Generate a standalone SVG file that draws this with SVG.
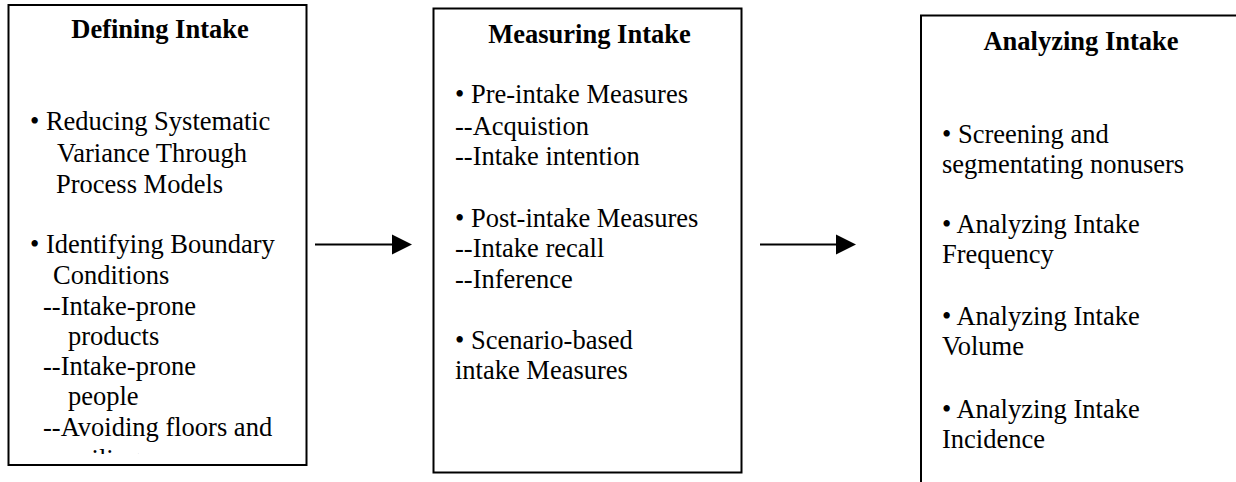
<svg xmlns="http://www.w3.org/2000/svg" width="1236" height="482" viewBox="0 0 1236 482">
<style>
.box{fill:#fff;stroke:#000;stroke-width:2}
.t{font-family:"Liberation Serif","Times New Roman",serif;font-size:26.5px;fill:#000}
.h{font-weight:bold;text-anchor:middle}
.conn line{stroke:#000;stroke-width:2}
.conn polygon{fill:#000}
</style>
<defs>
<clipPath id="clip1"><rect x="9" y="5" width="297" height="449"/></clipPath>
</defs>
<rect width="1236" height="482" fill="#fff"/>
<g id="defining">
<rect class="box" x="8.5" y="5" width="298" height="460"/>
<text class="t h" x="160" y="38">Defining Intake</text>
<g clip-path="url(#clip1)">
<text class="t" x="30" y="130">• Reducing Systematic</text>
<text class="t" x="57" y="161.5">Variance Through</text>
<text class="t" x="56" y="192.5">Process Models</text>
<text class="t" x="30" y="253">• Identifying Boundary</text>
<text class="t" x="53" y="284">Conditions</text>
<text class="t" x="43" y="314.5">--Intake-prone</text>
<text class="t" x="68" y="344.5">products</text>
<text class="t" x="43" y="375">--Intake-prone</text>
<text class="t" x="68" y="405">people</text>
<text class="t" x="43" y="436">--Avoiding floors and</text>
<text class="t" x="68" y="468">ceilings</text>
</g>
</g>
<g id="measuring">
<rect class="box" x="433.5" y="8.5" width="308" height="464"/>
<text class="t h" x="589.5" y="42.5">Measuring Intake</text>
<text class="t" x="455" y="103">• Pre-intake Measures</text>
<text class="t" x="455" y="134.5">--Acquistion</text>
<text class="t" x="455" y="165">--Intake intention</text>
<text class="t" x="455" y="227">• Post-intake Measures</text>
<text class="t" x="455" y="257">--Intake recall</text>
<text class="t" x="455" y="287.5">--Inference</text>
<text class="t" x="455" y="348.5">• Scenario-based</text>
<text class="t" x="455" y="379">intake Measures</text>
</g>
<g id="analyzing">
<rect class="box" x="921" y="15.5" width="330" height="480"/>
<text class="t h" x="1081" y="50">Analyzing Intake</text>
<text class="t" x="942" y="143">• Screening and</text>
<text class="t" x="942" y="173">segmentating nonusers</text>
<text class="t" x="942" y="233">• Analyzing Intake</text>
<text class="t" x="942" y="263">Frequency</text>
<text class="t" x="942" y="325">• Analyzing Intake</text>
<text class="t" x="942" y="355">Volume</text>
<text class="t" x="942" y="418">• Analyzing Intake</text>
<text class="t" x="942" y="448">Incidence</text>
</g>
<g id="connectors" class="conn">
<line x1="315" y1="244.5" x2="393" y2="244.5"/>
<polygon points="392,234.5 412,244.5 392,254.5"/>
<line x1="760" y1="244.5" x2="837" y2="244.5"/>
<polygon points="836,234.5 856,244.5 836,254.5"/>
</g>
</svg>
